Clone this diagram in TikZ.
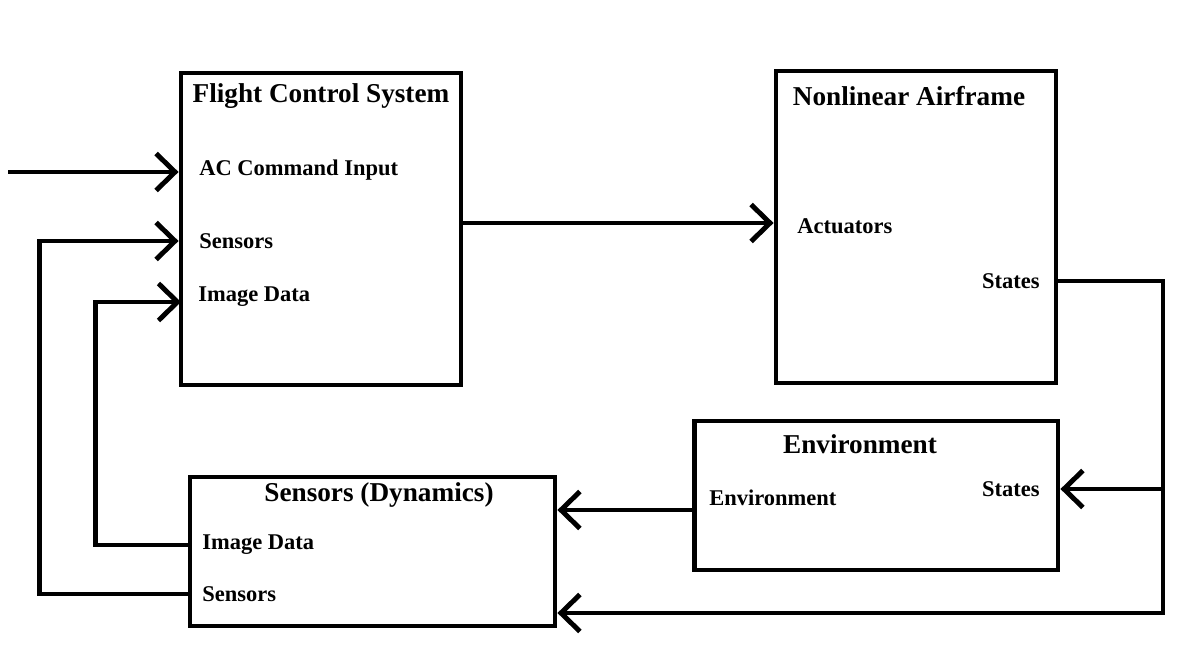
\documentclass[tikz,border=0pt]{standalone}
\usepackage{fontspec}
\setmainfont{Liberation Serif}
\usetikzlibrary{arrows.meta, positioning}

\begin{document}
\begin{tikzpicture}[x=0.02cm, y=-0.02cm,
    block/.style={rectangle, draw, line width=2.8pt, inner sep=0pt},
    blocktitle/.style={font=\bfseries\fontsize{15.5}{18}\selectfont, inner sep=0pt},
    port/.style={font=\bfseries\fontsize{12.8}{15}\selectfont, inner sep=0pt},
    wire/.style={line width=2.8pt},
    arr/.style={wire, -{Straight Barb[length=0.38cm, width=0.74cm]}}]
  \useasboundingbox (0,0) rectangle (1188,655);

  \node[block, minimum width=5.6cm, minimum height=6.24cm] (fcs) at (321,229) {};
  \node[block, minimum width=5.6cm, minimum height=6.24cm] (air) at (916,227) {};
  \node[block, minimum width=7.28cm, minimum height=2.98cm] (env) at (876,495.5) {};
  \node[block, minimum width=7.3cm, minimum height=2.98cm] (sens) at (372.5,551.5) {};

  \node[blocktitle] (fcstitle) at (321,96) {Flight Control System};
  \node[blocktitle] (airtitle) at (909,96) {Nonlinear Airframe};
  \node[blocktitle] (envtitle) at (860,444) {Environment};
  \node[blocktitle] (senstitle) at (379,495) {Sensors (Dynamics)};

  \node[port, anchor=west] (cmd) at (199,170) {AC Command Input};
  \node[port, anchor=west] (fsens) at (199,241) {Sensors};
  \node[port, anchor=west] (fimg) at (198,297) {Image Data};
  \node[port, anchor=west] (act) at (797,226) {Actuators};
  \node[port, anchor=east] (astates) at (1040,281) {States};
  \node[port, anchor=west] (envin) at (709,498) {Environment};
  \node[port, anchor=east] (estates) at (1040,489) {States};
  \node[port, anchor=west] (simg) at (202,545) {Image Data};
  \node[port, anchor=west] (ssens) at (202,594) {Sensors};

  \coordinate (cmdsrc) at (8,172);
  \coordinate (fcsout) at (461,223);
  \coordinate (imgin) at (181,302);
  \coordinate (split) at (1163,489);
  \coordinate (ret) at (1163,613);
  \coordinate (envout) at (694,510);

  \draw[arr] (cmdsrc) -- (cmdsrc -| fcs.west);
  \draw[arr] (fcsout) -- (fcsout -| air.west);
  \draw[wire] (astates -| air.east) -- (split |- astates) -- (split);
  \draw[arr] (split) -- (split -| env.east);
  \draw[arr] (split) -- (ret) -- (ret -| sens.east);
  \draw[arr] (envout) -- (envout -| sens.east);
  \draw[arr] (simg -| sens.west) -- ++(-92,0) |- (imgin);
  \draw[arr] (ssens -| sens.west) -- ++(-148,0) |- (fsens -| fcs.west);
\end{tikzpicture}
\end{document}
